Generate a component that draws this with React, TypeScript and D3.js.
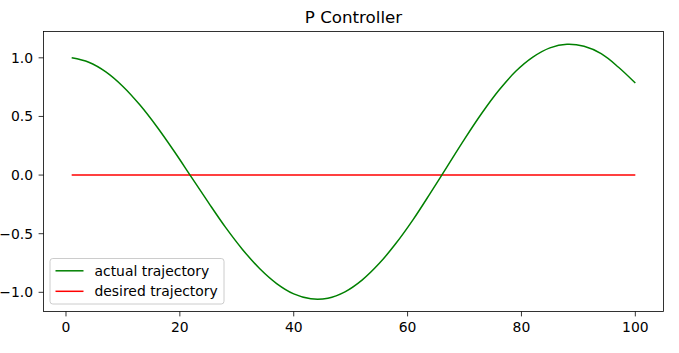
import React from 'react';
import * as d3 from 'd3';

// values
const timeSteps = [
  1, 4, 7, 10, 13, 16, 19, 22, 25, 28, 31, 34, 37, 40, 43, 46, 49, 52, 55, 58, 61, 64, 67, 70,
  73, 76, 79, 82, 85, 88, 91, 94, 97, 100,
];
const actualTrajectory = [
  1.0, 0.962, 0.88, 0.756, 0.597, 0.41, 0.203, -0.015, -0.233, -0.444, -0.634, -0.797, -0.925,
  -1.013, -1.055, -1.05, -0.996, -0.896, -0.755, -0.58, -0.378, -0.154, 0.077, 0.307, 0.525,
  0.721, 0.885, 1.006, 1.085, 1.116, 1.098, 1.035, 0.922, 0.785,
];
const desiredStart = 1;
const desiredEnd = 100;
const desiredValue = 0;

const xTicks = [0, 20, 40, 60, 80, 100];
const yTicks = [-1.0, -0.5, 0.0, 0.5, 1.0];
const legendLabels = ['actual trajectory', 'desired trajectory'];
const legendColors = ['green', 'red'];

const width = 679;
const height = 353;
const margin = { left: 43.5, right: 15.5, top: 31.5, bottom: 41.5 };
const font = '"DejaVu Sans", sans-serif';

const fmt = (v: number) => {
  const s = v.toFixed(1);
  return s.startsWith('-') ? '\u2212' + s.slice(1) : s;
};

export default function App() {
  const x0 = margin.left;
  const x1 = width - margin.right;
  const y0 = margin.top;
  const y1 = height - margin.bottom;

  // matplotlib style 5% auto margins
  const xExt = [desiredStart, desiredEnd];
  const xPad = (xExt[1] - xExt[0]) * 0.05;
  const xScale = d3.scaleLinear().domain([xExt[0] - xPad, xExt[1] + xPad]).range([x0, x1]);

  const yMin = Math.min(d3.min(actualTrajectory) ?? 0, desiredValue);
  const yMax = Math.max(d3.max(actualTrajectory) ?? 0, desiredValue);
  const yPad = (yMax - yMin) * 0.05;
  const yScale = d3.scaleLinear().domain([yMin - yPad, yMax + yPad]).range([y1, y0]);

  const line = d3
    .line<[number, number]>()
    .x(d => xScale(d[0]))
    .y(d => yScale(d[1]))
    .curve(d3.curveCatmullRom);

  const actualPath = line(timeSteps.map((t, i) => [t, actualTrajectory[i]] as [number, number])) ?? '';
  const desiredPath =
    d3.line<[number, number]>()
      .x(d => xScale(d[0]))
      .y(d => yScale(d[1]))([
      [desiredStart, desiredValue],
      [desiredEnd, desiredValue],
    ]) ?? '';

  const legendX = 50;
  const legendY = 258.5;

  return (
    <div style={{ position: 'absolute', left: 0, top: 0 }}>
      <svg width={width} height={height} style={{ display: 'block', background: '#fff' }}>
        <rect x={0} y={0} width={width} height={height} fill="#fff" />

        {/* title */}
        <text x={(x0 + x1) / 2} y={23} textAnchor="middle" fontFamily={font} fontSize={16.7} fill="#000">
          P Controller
        </text>

        {/* lines */}
        <path d={desiredPath} fill="none" stroke="red" strokeWidth={1.5} />
        <path d={actualPath} fill="none" stroke="green" strokeWidth={1.5} />

        {/* frame */}
        <rect x={x0} y={y0} width={x1 - x0} height={y1 - y0} fill="none" stroke="#000" strokeWidth={0.8} />

        {/* x axis */}
        {xTicks.map(t => (
          <g key={`x${t}`}>
            <line x1={xScale(t)} x2={xScale(t)} y1={y1} y2={y1 + 4.9} stroke="#000" strokeWidth={0.8} />
            <text x={xScale(t)} y={y1 + 20.3} textAnchor="middle" fontFamily={font} fontSize={13.9} fill="#000">
              {t}
            </text>
          </g>
        ))}

        {/* y axis */}
        {yTicks.map(t => (
          <g key={`y${t}`}>
            <line x1={x0 - 4.9} x2={x0} y1={yScale(t)} y2={yScale(t)} stroke="#000" strokeWidth={0.8} />
            <text x={x0 - 10.5} y={yScale(t) + 5} textAnchor="end" fontFamily={font} fontSize={13.9} fill="#000">
              {fmt(t)}
            </text>
          </g>
        ))}

        {/* legend */}
        <rect
          x={legendX}
          y={legendY}
          width={174}
          height={45.5}
          rx={2.8}
          fill="#fff"
          fillOpacity={0.8}
          stroke="#cccccc"
          strokeWidth={1}
        />
        {legendLabels.map((label, i) => (
          <g key={label}>
            <line
              x1={legendX + 5.5}
              x2={legendX + 33.5}
              y1={legendY + 12.3 + i * 20.5}
              y2={legendY + 12.3 + i * 20.5}
              stroke={legendColors[i]}
              strokeWidth={1.5}
            />
            <text
              x={legendX + 44.5}
              y={legendY + 17.3 + i * 20.5}
              fontFamily={font}
              fontSize={13.9}
              fill="#000"
            >
              {label}
            </text>
          </g>
        ))}
      </svg>
    </div>
  );
}
